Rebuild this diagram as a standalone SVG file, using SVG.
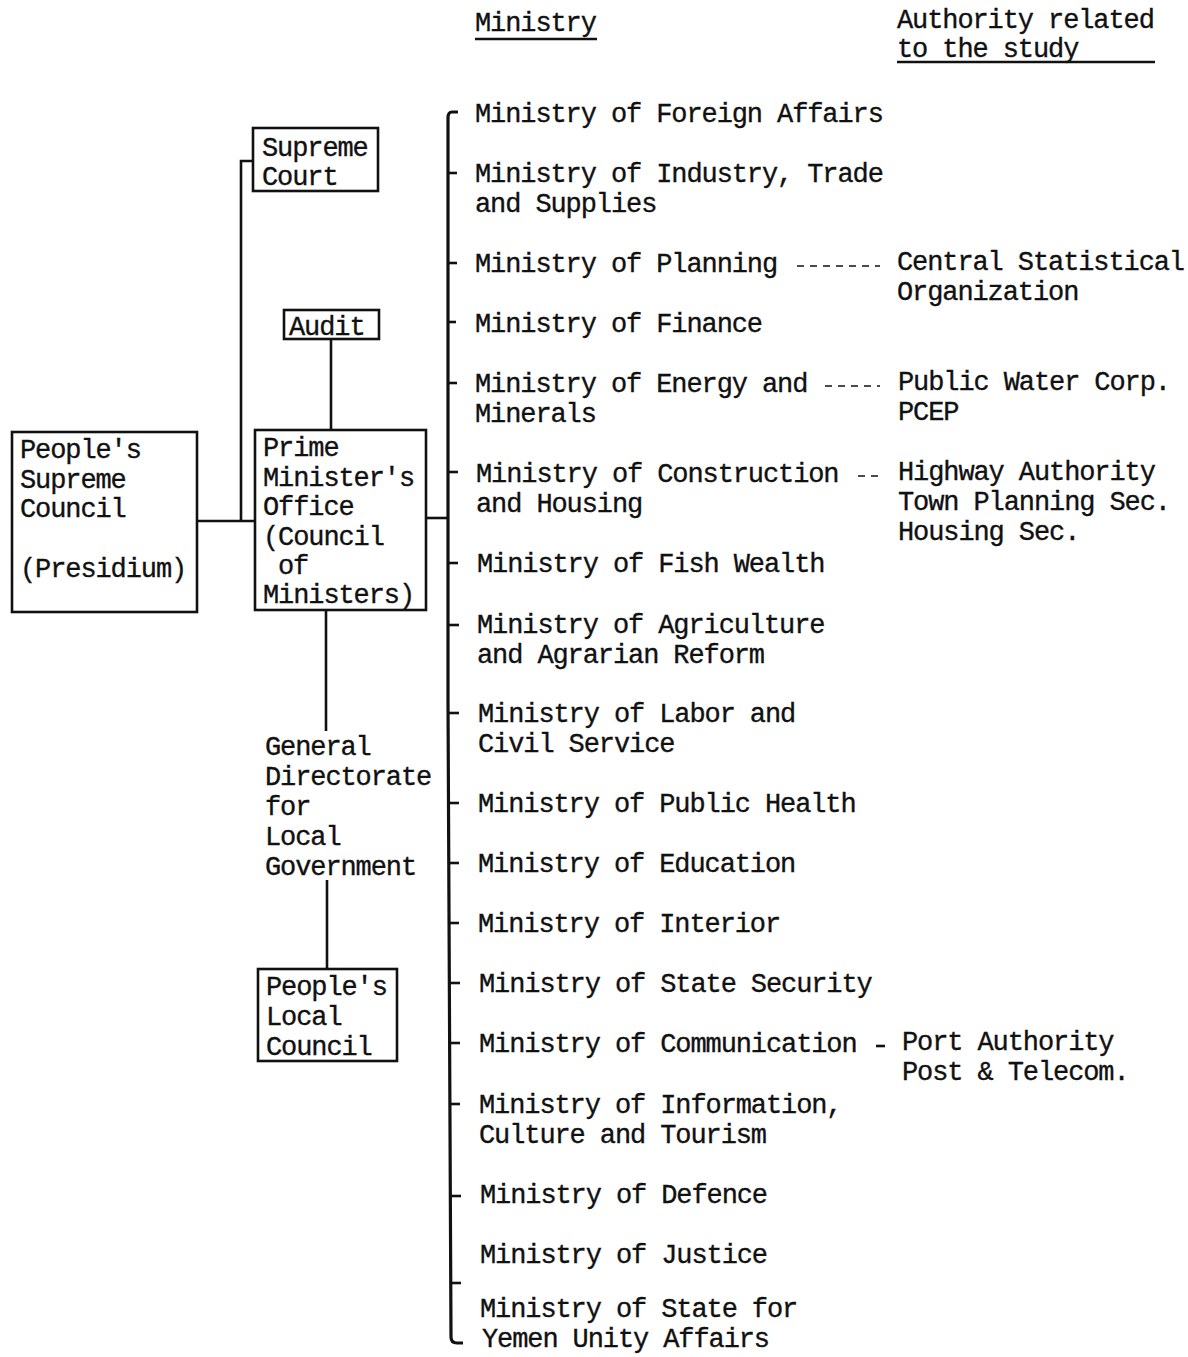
<svg xmlns="http://www.w3.org/2000/svg" width="1188" height="1357" viewBox="0 0 1188 1357">
<style>
text{font-family:"Liberation Mono","Courier New",monospace;font-size:27px;letter-spacing:-1.1px;fill:#111;stroke:#111;stroke-width:0.35px}
.box{fill:#fff;stroke:#111;stroke-width:2.6}
.ln{fill:none;stroke:#111;stroke-width:2.6}
.bar{fill:none;stroke:#111;stroke-width:3.2}
.dash{fill:none;stroke:#111;stroke-width:1.6;stroke-dasharray:7 6}
</style>
<rect width="1188" height="1357" fill="#fff"/>
<g id="headers">
<text x="475" y="31">Ministry</text>
<line x1="475" y1="39" x2="597" y2="39" class="ln" stroke-width="1.8"/>
<text x="897" y="28">Authority related</text>
<text x="897" y="57">to the study</text>
<line x1="897" y1="62" x2="1155" y2="62" class="ln" stroke-width="1.8"/>
</g>
<g id="connectors">
<polyline class="ln" points="197,521 255,521"/>
<polyline class="ln" points="241,521 241,161 253,161"/>
<line class="ln" x1="331" y1="339" x2="331" y2="430"/>
<line class="ln" x1="426" y1="518" x2="448" y2="518"/>
<line class="ln" x1="326" y1="610" x2="326" y2="731"/>
<line class="ln" x1="327" y1="880" x2="327" y2="969"/>
<path class="bar" d="M458,112 L452,112 Q448,112 448,118 L448,700 L451,1337 Q451,1343 457,1343 L463,1343"/>
<g class="ln" stroke-width="2.4">
<line x1="448" y1="173" x2="457" y2="173"/>
<line x1="448" y1="263" x2="457" y2="263"/>
<line x1="448" y1="322" x2="456" y2="322"/>
<line x1="448" y1="383" x2="457" y2="383"/>
<line x1="448" y1="472" x2="458" y2="472"/>
<line x1="448" y1="563" x2="458" y2="563"/>
<line x1="449" y1="625" x2="459" y2="625"/>
<line x1="449" y1="713" x2="459" y2="713"/>
<line x1="449" y1="803" x2="459" y2="803"/>
<line x1="449" y1="863" x2="459" y2="863"/>
<line x1="449" y1="923" x2="459" y2="923"/>
<line x1="450" y1="983" x2="460" y2="983"/>
<line x1="450" y1="1043" x2="460" y2="1043"/>
<line x1="450" y1="1104" x2="460" y2="1104"/>
<line x1="451" y1="1196" x2="461" y2="1196"/>
<line x1="451" y1="1283" x2="461" y2="1283"/>
</g>
<line class="dash" x1="797" y1="266" x2="880" y2="266"/>
<line class="dash" x1="825" y1="386" x2="880" y2="386"/>
<line class="dash" x1="858" y1="476" x2="880" y2="476"/>
<line class="ln" stroke-width="1.6" x1="876" y1="1046" x2="885" y2="1046"/>
</g>
<g id="supreme-court">
<rect class="box" x="253" y="128" width="125" height="63"/>
<text x="262" y="156">Supreme</text>
<text x="262" y="185">Court</text>
</g>
<g id="audit">
<rect class="box" x="284" y="310" width="95" height="29"/>
<text x="289" y="335">Audit</text>
</g>
<g id="peoples-supreme-council">
<rect class="box" x="12" y="432" width="185" height="180"/>
<text x="20" y="458">People's</text>
<text x="20" y="488">Supreme</text>
<text x="20" y="517">Council</text>
<text x="20" y="577">(Presidium)</text>
</g>
<g id="prime-ministers-office">
<rect class="box" x="255" y="430" width="171" height="180"/>
<text x="263" y="456">Prime</text>
<text x="263" y="486">Minister's</text>
<text x="263" y="515">Office</text>
<text x="263" y="545">(Council</text>
<text x="278" y="574">of</text>
<text x="263" y="603">Ministers)</text>
</g>
<g id="general-directorate">
<text x="265" y="755">General</text>
<text x="265" y="785">Directorate</text>
<text x="265" y="815">for</text>
<text x="265" y="845">Local</text>
<text x="265" y="875">Government</text>
</g>
<g id="peoples-local-council">
<rect class="box" x="258" y="969" width="139" height="92"/>
<text x="266" y="995">People's</text>
<text x="266" y="1025">Local</text>
<text x="266" y="1055">Council</text>
</g>
<g id="ministries">
<text x="475" y="122">Ministry of Foreign Affairs</text>
<text x="475" y="182">Ministry of Industry, Trade</text>
<text x="475" y="212">and Supplies</text>
<text x="475" y="272">Ministry of Planning</text>
<text x="475" y="332">Ministry of Finance</text>
<text x="475" y="392">Ministry of Energy and</text>
<text x="475" y="422">Minerals</text>
<text x="476" y="482">Ministry of Construction</text>
<text x="476" y="512">and Housing</text>
<text x="477" y="572">Ministry of Fish Wealth</text>
<text x="477" y="633">Ministry of Agriculture</text>
<text x="477" y="663">and Agrarian Reform</text>
<text x="478" y="722">Ministry of Labor and</text>
<text x="478" y="752">Civil Service</text>
<text x="478" y="812">Ministry of Public Health</text>
<text x="478" y="872">Ministry of Education</text>
<text x="478" y="932">Ministry of Interior</text>
<text x="479" y="992">Ministry of State Security</text>
<text x="479" y="1052">Ministry of Communication</text>
<text x="479" y="1113">Ministry of Information,</text>
<text x="479" y="1143">Culture and Tourism</text>
<text x="480" y="1203">Ministry of Defence</text>
<text x="480" y="1263">Ministry of Justice</text>
<text x="480" y="1317">Ministry of State for</text>
<text x="482" y="1347">Yemen Unity Affairs</text>
</g>
<g id="authorities">
<text x="897" y="270">Central Statistical</text>
<text x="897" y="300">Organization</text>
<text x="898" y="390">Public Water Corp.</text>
<text x="898" y="420">PCEP</text>
<text x="898" y="480">Highway Authority</text>
<text x="898" y="510">Town Planning Sec.</text>
<text x="898" y="540">Housing Sec.</text>
<text x="902" y="1050">Port Authority</text>
<text x="902" y="1080">Post &amp; Telecom.</text>
</g>
</svg>
